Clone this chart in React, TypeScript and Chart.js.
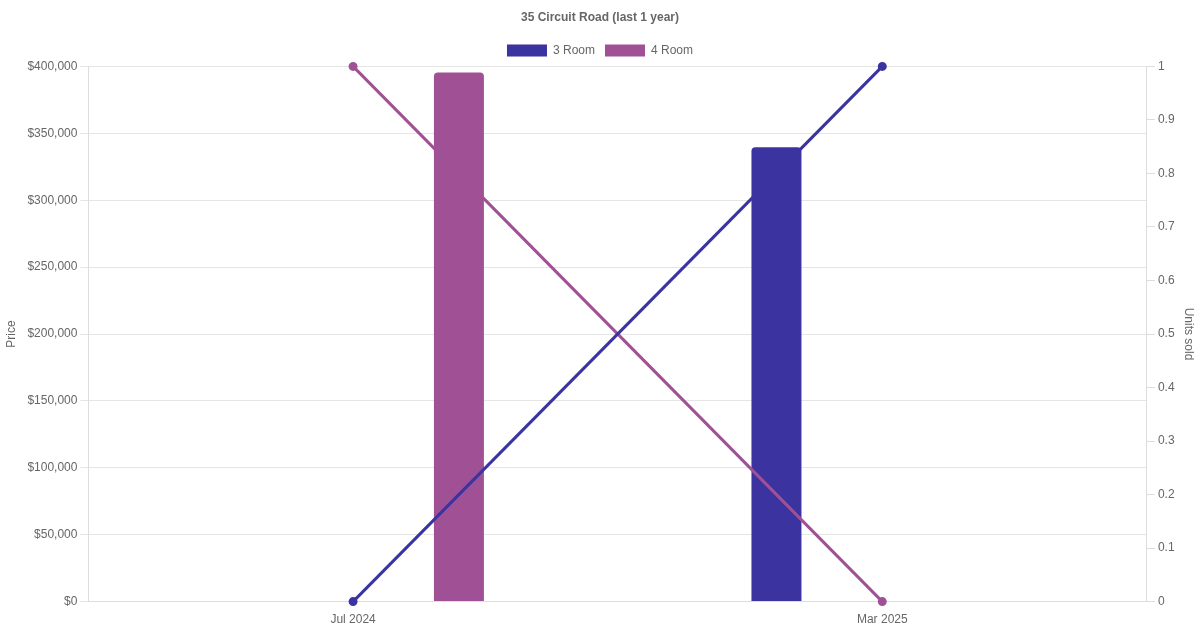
import React, { useEffect, useRef } from "react";
import { Chart, registerables } from "chart.js";

Chart.register(...registerables);

const categories = ["Jul 2024", "Mar 2025"];
const price3Room = [null, 339500];
const price4Room = [395500, null];
const units3Room = [0, 1];
const units4Room = [1, 0];
const color3 = "#3a33a0";
const color4 = "#a05195";

export default function App() {
  const ref = useRef<HTMLCanvasElement | null>(null);
  useEffect(() => {
    if (!ref.current) return;
    Chart.defaults.font.family = "'Liberation Sans', Arial, Helvetica, sans-serif";
    Chart.defaults.color = "#666";
    const chart = new Chart(ref.current, {
      data: {
        labels: categories,
        datasets: [
          {
            type: "bar",
            label: "3 Room",
            data: price3Room as any,
            backgroundColor: color3,
            borderColor: color3,
            borderRadius: 4,
            borderSkipped: "bottom",
            maxBarThickness: 50,
            yAxisID: "y",
            order: 2,
          },
          {
            type: "bar",
            label: "4 Room",
            data: price4Room as any,
            backgroundColor: color4,
            borderColor: color4,
            borderRadius: 4,
            borderSkipped: "bottom",
            maxBarThickness: 50,
            yAxisID: "y",
            order: 2,
          },
          {
            type: "line",
            label: "3 Room units",
            data: units3Room,
            borderColor: color3,
            backgroundColor: color3,
            borderWidth: 3,
            pointRadius: 3,
            clip: false,
            yAxisID: "y1",
            order: 1,
          },
          {
            type: "line",
            label: "4 Room units",
            data: units4Room,
            borderColor: color4,
            backgroundColor: color4,
            borderWidth: 3,
            pointRadius: 3,
            clip: false,
            yAxisID: "y1",
            order: 1,
          },
        ],
      },
      options: {
        animation: false,
        responsive: false,
        maintainAspectRatio: false,
        plugins: {
          title: {
            display: true,
            text: "35 Circuit Road (last 1 year)",
            font: { size: 12, weight: "bold" },
            color: "#666",
            padding: { top: 10, bottom: 10 },
          },
          legend: {
            labels: {
              filter: (item: any) => item.datasetIndex < 2,
              boxWidth: 40,
              boxHeight: 12,
            },
          },
          tooltip: { enabled: false },
        },
        scales: {
          x: {
            grid: { display: false },
            border: { display: true, color: "#ddd" },
            ticks: { padding: 3 },
          },
          y: {
            position: "left",
            min: 0,
            max: 400000,
            ticks: {
              stepSize: 50000,
              callback: (v: any) => "$" + Number(v).toLocaleString("en-US"),
            },
            grid: { color: "#e5e5e5" },
            border: { color: "#ddd" },
            title: { display: true, text: "Price", padding: { top: 4, bottom: 6 } },
          },
          y1: {
            position: "right",
            min: 0,
            max: 1,
            ticks: { stepSize: 0.1, callback: (v: any) => String(Math.round(Number(v) * 10) / 10) },
            grid: { drawOnChartArea: false, color: "#ddd" },
            border: { color: "#ddd" },
            title: { display: true, text: "Units sold" },
          },
        },
      },
    } as any);
    return () => chart.destroy();
  }, []);
  return (
    <div style={{ position: "fixed", left: 0, top: 0, width: 1200, height: 630, background: "#fff" }}>
      <canvas ref={ref} width={1200} height={630} style={{ width: 1200, height: 630 }} />
    </div>
  );
}
